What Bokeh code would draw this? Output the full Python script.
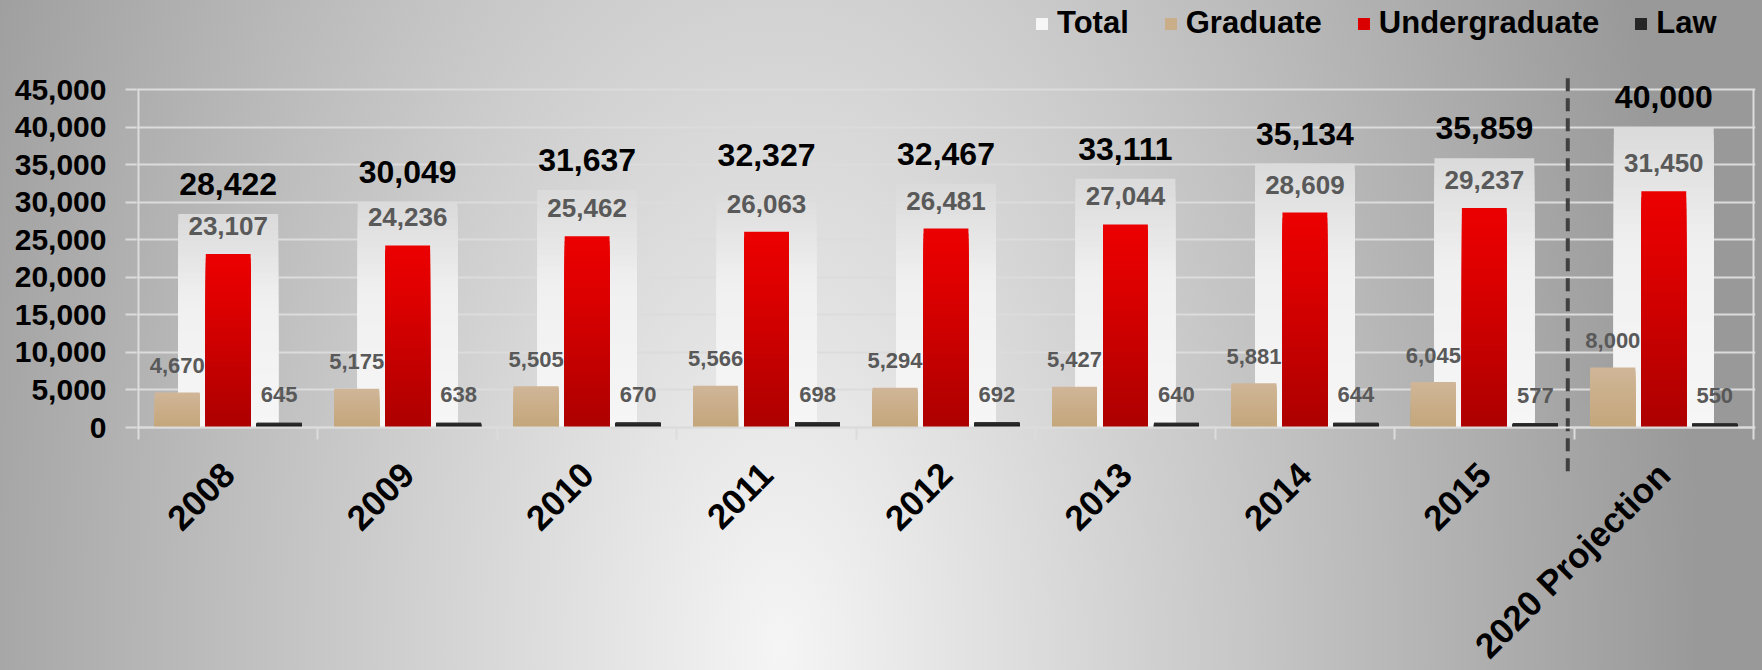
from math import pi
from bokeh.plotting import figure
from bokeh.models import (ColumnDataSource, Range1d, FixedTicker, NumeralTickFormatter,
                          Legend, LegendItem)
from bokeh.core.properties import value
from bokeh.embed import file_html
from bokeh.resources import INLINE

# ---------------- data ----------------
categories = ["2008", "2009", "2010", "2011", "2012", "2013", "2014", "2015", "2020 Projection"]
total = [28422, 30049, 31637, 32327, 32467, 33111, 35134, 35859, 40000]
graduate = [4670, 5175, 5505, 5566, 5294, 5427, 5881, 6045, 8000]
undergraduate = [23107, 24236, 25462, 26063, 26481, 27044, 28609, 29237, 31450]
law = [645, 638, 670, 698, 692, 640, 644, 577, 550]
y_ticks = list(range(0, 45001, 5000))

FONT = value("Liberation Sans")
N_BANDS = 40
GRID = "#dcdcdc"


def interp(stops, f):
    for (f0, c0), (f1, c1) in zip(stops[:-1], stops[1:]):
        if f0 <= f <= f1:
            t = 0 if f1 == f0 else (f - f0) / (f1 - f0)
            c = [round(a + (b - a) * t) for a, b in zip(c0, c1)]
            return "#%02x%02x%02x" % tuple(c)
    c = stops[-1][1] if f > stops[-1][0] else stops[0][1]
    return "#%02x%02x%02x" % tuple(c)


def band_source(values, offset, stops):
    xs, bottoms, tops, colors = [], [], [], []
    for i, v in enumerate(values):
        for k in range(N_BANDS):
            frac_top = (N_BANDS - k) / N_BANDS
            frac_mid = (N_BANDS - k - 0.5) / N_BANDS
            xs.append(i + offset)
            bottoms.append(0)
            tops.append(v * frac_top)
            colors.append(interp(stops, frac_mid))
    return ColumnDataSource(dict(x=xs, bottom=bottoms, top=tops, color=colors))


# ---------------- figure ----------------
# frame spans the full height so the legend and divider are drawn inside it;
# the x axis sits at y = 0 through fixed_location
p = figure(width=1762, height=670,
           x_range=Range1d(-0.5111, 8.5111), y_range=Range1d(-32350, 56850),
           output_backend="svg", toolbar_location=None,
           min_border_left=136, min_border_right=7, min_border_top=0, min_border_bottom=0)

p.background_fill_alpha = 0
p.border_fill_alpha = 0
p.outline_line_color = None
p.styles = {"background": "radial-gradient(920px 1700px at 780px 650px, #f5f5f5 0%, #999999 100%)"}

p.xgrid.visible = False
p.ygrid.ticker = FixedTicker(ticks=y_ticks)
p.ygrid.grid_line_color = GRID
p.ygrid.grid_line_width = 2

# y axis
yax = p.yaxis[0]
yax.ticker = FixedTicker(ticks=y_ticks)
yax.formatter = NumeralTickFormatter(format="0,0")
yax.major_label_text_font = "Liberation Sans"
yax.major_label_text_font_style = "bold"
yax.major_label_text_font_size = "30px"
yax.major_label_text_color = "black"
yax.axis_line_color = None
yax.major_tick_line_color = GRID
yax.major_tick_line_width = 2
yax.major_tick_out = 11
yax.major_tick_in = 0
yax.minor_tick_line_color = None
yax.major_label_standoff = 19

# x axis
xax = p.xaxis[0]
xax.fixed_location = 0
xax.ticker = FixedTicker(ticks=list(range(len(categories))),
                         minor_ticks=[i - 0.5 for i in range(len(categories) + 1)])
xax.major_label_overrides = {i: c for i, c in enumerate(categories)}
xax.major_label_orientation = pi / 4
xax.major_label_text_font = "Liberation Sans"
xax.major_label_text_font_style = "bold"
xax.major_label_text_font_size = "35px"
xax.major_label_text_color = "black"
xax.major_tick_line_color = None
xax.major_tick_out = 0
xax.major_tick_in = 0
xax.minor_tick_line_color = GRID
xax.minor_tick_line_width = 2
xax.minor_tick_out = 12
xax.minor_tick_in = 0
xax.axis_line_color = GRID
xax.axis_line_width = 2
xax.major_label_standoff = 29

# plot-area side lines (left axis line and right edge)
p.segment(x0=[-0.5, 8.5], y0=[0, 0], x1=[-0.5, 8.5], y1=[y_ticks[-1], y_ticks[-1]],
          line_color=GRID, line_width=2)

# ---------------- bars ----------------
total_stops = [(0.0, (246, 246, 246)), (0.6, (240, 240, 240)), (1.0, (218, 218, 218))]
grad_stops = [(0.0, (196, 166, 122)), (1.0, (208, 182, 152))]
under_stops = [(0.0, (172, 0, 0)), (0.75, (224, 0, 0)), (1.0, (236, 0, 0))]
law_stops = [(0.0, (26, 26, 26)), (1.0, (50, 50, 50))]

src_total = band_source(total, 0.0, total_stops)
src_grad = band_source(graduate, -0.284, grad_stops)
src_under = band_source(undergraduate, 0.0, under_stops)
src_law = band_source(law, 0.284, law_stops)

r_total = p.vbar(x="x", bottom="bottom", top="top", width=0.556, fill_color="color",
                 line_color=None, source=src_total)
r_grad = p.vbar(x="x", bottom="bottom", top="top", width=0.25, fill_color="color",
                line_color=None, source=src_grad)
r_under = p.vbar(x="x", bottom="bottom", top="top", width=0.25, fill_color="color",
                 line_color=None, source=src_under)
r_law = p.vbar(x="x", bottom="bottom", top="top", width=0.25, fill_color="color",
               line_color=None, source=src_law)

# ---------------- labels ----------------
idx = list(range(len(categories)))


def add_labels(xs, ys, size, color, yoff):
    src = ColumnDataSource(dict(x=xs, y=ys, t=[f"{v:,}" for v in ys]))
    p.text(x="x", y="y", text="t", source=src, y_offset=yoff,
           text_align="center", text_baseline="alphabetic",
           text_font=FONT, text_font_style="bold", text_font_size=size,
           text_color=color)


add_labels(idx, total, "32px", "black", -30)
add_labels([i - 0.284 for i in idx], graduate, "22px", "#595959", -27)
add_labels(idx, undergraduate, "26px", "#595959", -28)
add_labels([i + 0.284 for i in idx], law, "22px", "#595959", -28)

# ---------------- dashed divider between actuals and projection ----------------
p.segment(x0=[7.465], y0=[46500], x1=[7.465], y1=[-6000],
          line_color="#404040", line_width=4, line_dash="13 7")

# ---------------- legend ----------------
legend = Legend(items=[
    LegendItem(label="Total", renderers=[r_total], index=N_BANDS - 1),
    LegendItem(label="Graduate", renderers=[r_grad], index=N_BANDS // 2),
    LegendItem(label="Undergraduate", renderers=[r_under], index=N_BANDS // 3),
    LegendItem(label="Law", renderers=[r_law], index=N_BANDS // 2),
], orientation="horizontal", location=(898, 629),
    label_text_font="Liberation Sans", label_text_font_style="bold",
    label_text_font_size="31px", label_text_color="black",
    glyph_width=15, glyph_height=15, label_standoff=8, spacing=34,
    padding=0, margin=0, border_line_alpha=0, background_fill_alpha=0)
p.add_layout(legend)

open("out.html", "w").write(file_html(p, INLINE))
